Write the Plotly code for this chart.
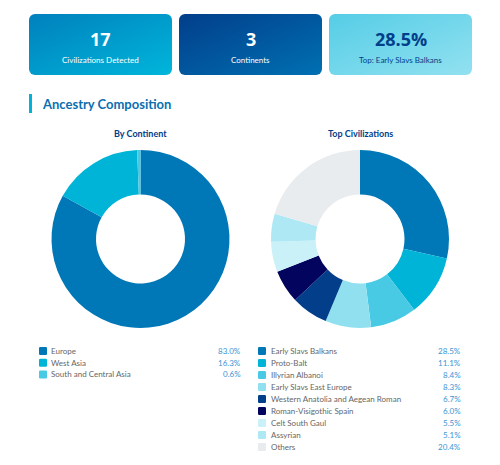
import plotly.graph_objects as go

# chart data
continents = ["Europe", "West Asia", "South and Central Asia"]
continent_pct = [83.0, 16.3, 0.6]

civs = ["Early Slavs Balkans", "Proto-Balt", "Illyrian Albanoi", "Early Slavs East Europe",
        "Western Anatolia and Aegean Roman", "Roman-Visigothic Spain", "Celt South Gaul",
        "Assyrian", "Others"]
civ_pct = [28.5, 11.1, 8.4, 8.3, 6.7, 6.0, 5.5, 5.1, 20.4]

card_values = ["17", "3", "28.5%"]
card_labels = ["Civilizations Detected", "Continents", "Top: Early Slavs Balkans"]

# styling
OFF = 8  # the page body margin shifts everything by 8px
W, H = 500 - 2 * OFF, 465 - 2 * OFF
FONT = "Lato"
NUM_FONT = "Open Sans"
continent_colors = ["#0077b6", "#00b4d8", "#48cae4"]
civ_colors = ["#0077b6", "#00b4d8", "#48cae4", "#90e0ef", "#023e8a",
              "#03045e", "#caf0f8", "#ade8f4", "#e9ecef"]
card_grads = [("#0080bd", "#00b6da"), ("#023e8a", "#0070b2"), ("#55cde6", "#92e1f0")]
card_text = ["white", "white", "#023e8a"]


def X(x):
    return x - OFF


def Y(y):
    return y - OFF


def px(x):
    return X(x) / W


def py(y):
    return 1 - Y(y) / H


def rounded(x0, y0, x1, y1, r):
    return (f"M{x0+r},{y0} L{x1-r},{y0} Q{x1},{y0} {x1},{y0+r} L{x1},{y1-r} Q{x1},{y1} {x1-r},{y1} "
            f"L{x0+r},{y1} Q{x0},{y1} {x0},{y1-r} L{x0},{y0+r} Q{x0},{y0} {x0+r},{y0} Z")


fig = go.Figure()

# donuts
fig.add_trace(go.Pie(labels=continents, values=continent_pct, hole=0.5, sort=False,
                     direction="clockwise", rotation=0, textinfo="none",
                     marker=dict(colors=continent_colors, line=dict(width=0)),
                     domain=dict(x=[px(51.5), px(229.5)], y=[py(328), py(150)]),
                     showlegend=False))
fig.add_trace(go.Pie(labels=civs, values=civ_pct, hole=0.5, sort=False,
                     direction="clockwise", rotation=0, textinfo="none",
                     marker=dict(colors=civ_colors, line=dict(width=0)),
                     domain=dict(x=[px(271), px(449)], y=[py(328), py(150)]),
                     showlegend=False))

# hidden pixel axes for shapes
fig.update_xaxes(range=[0, W], visible=False, fixedrange=True)
fig.update_yaxes(range=[H, 0], visible=False, fixedrange=True)

shapes = []
annotations = []
images = []

# stat cards with gradient backgrounds
card_x = [29, 179, 329]
for i, x0 in enumerate(card_x):
    c0, c1 = card_grads[i]
    svg = (f"<svg xmlns='http://www.w3.org/2000/svg' width='143' height='61'>"
           f"<defs><linearGradient id='g' x1='0' y1='0' x2='1' y2='1'>"
           f"<stop offset='0' stop-color='{c0}'/><stop offset='1' stop-color='{c1}'/></linearGradient></defs>"
           f"<rect width='143' height='61' rx='6' ry='6' fill='url(#g)'/></svg>")
    svg = svg.replace("#", "%23").replace("<", "%3C").replace(">", "%3E")
    images.append(dict(source="data:image/svg+xml;charset=utf-8," + svg, xref="x", yref="y",
                       x=X(x0), y=Y(14), sizex=143, sizey=61, sizing="stretch",
                       xanchor="left", yanchor="top", layer="below"))
    annotations.append(dict(x=X(x0 + 71.5), y=Y(39), xref="x", yref="y", text=f"<b>{card_values[i]}</b>",
                            showarrow=False, font=dict(family=NUM_FONT, size=18, color=card_text[i])))
    annotations.append(dict(x=X(x0 + 71.5), y=Y(60), xref="x", yref="y", text=card_labels[i],
                            showarrow=False, font=dict(family=FONT, size=8, color=card_text[i])))

# section title
shapes.append(dict(type="rect", xref="x", yref="y", x0=X(29), x1=X(32), y0=Y(94), y1=Y(113),
                   fillcolor="#00b4d8", line=dict(width=0)))
annotations.append(dict(x=X(40), y=Y(104), xref="x", yref="y", text="<b>Ancestry Composition</b>",
                        xanchor="left", showarrow=False,
                        font=dict(family=FONT, size=13, color="#0a6fb0")))

# subplot titles
for cx, t in [(140.5, "By Continent"), (360, "Top Civilizations")]:
    annotations.append(dict(x=X(cx), y=Y(133), xref="x", yref="y", text=f"<b>{t}</b>", showarrow=False,
                            font=dict(family=FONT, size=9, color="#023e8a")))


# legends
def legend(labels, values, colors, sx, tx, rx, y0, dy):
    for i, (lab, v) in enumerate(zip(labels, values)):
        y = Y(y0 + i * dy)
        shapes.append(dict(type="path", xref="x", yref="y",
                           path=rounded(X(sx), y - 4, X(sx) + 8, y + 4, 1.2),
                           fillcolor=colors[i], line=dict(width=0)))
        annotations.append(dict(x=X(tx), y=y, xref="x", yref="y", text=lab, xanchor="left", showarrow=False,
                                font=dict(family=FONT, size=8, color="#666666")))
        annotations.append(dict(x=X(rx), y=y, xref="x", yref="y", text=f"{v:.1f}%", xanchor="right",
                                showarrow=False, font=dict(family=FONT, size=8, color="#3a95d4")))


legend(continents, continent_pct, continent_colors, 39, 49, 243, 351, 11.7)
legend(civs, civ_pct, civ_colors, 258, 269, 463, 351, 12)

fig.update_layout(width=W, height=H, margin=dict(l=0, r=0, t=0, b=0),
                  paper_bgcolor="white", plot_bgcolor="white",
                  xaxis=dict(domain=[0, 1]), yaxis=dict(domain=[0, 1]),
                  shapes=shapes, annotations=annotations, images=images)

fig.write_html("out.html")
